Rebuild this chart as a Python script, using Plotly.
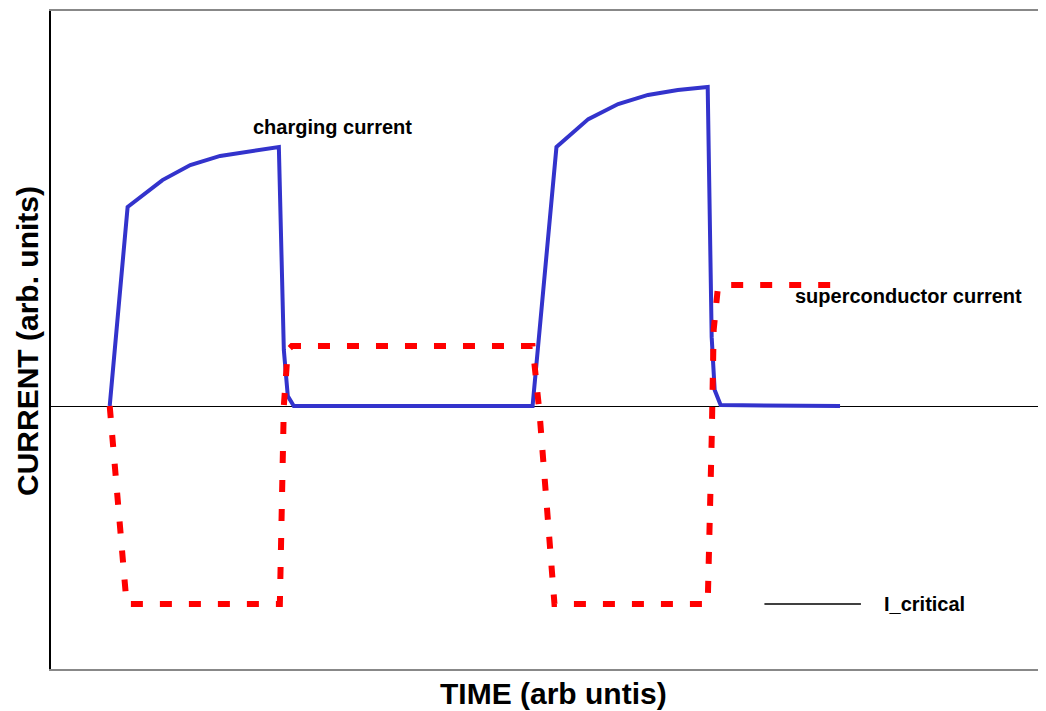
import plotly.graph_objects as go

# Time (arb units) and current (arb units; I_critical = -1)
charging_t = [5.9, 7.7, 11.2, 14.0, 17.0, 20.0, 22.9, 23.4, 23.8, 24.4,
              48.4, 50.8, 54.0, 57.0, 60.0, 63.0, 66.0, 66.4, 66.7, 67.3, 79.3]
charging_i = [0.0, 1.005, 1.141, 1.217, 1.263, 1.288, 1.308, 0.283, 0.05, 0.0,
              0.0, 1.308, 1.449, 1.525, 1.571, 1.596, 1.611, 0.348, 0.081, 0.005, 0.0]

super_t = [5.9, 7.6, 23.0, 23.4, 23.8, 24.2, 48.4, 48.7, 49.1, 50.6,
           66.0, 66.4, 66.6, 67.0, 67.4, 79.5]
super_i = [0.0, -1.0, -1.0, 0.0, 0.283, 0.303, 0.303, 0.141, -0.035, -1.0,
           -1.0, -0.17, 0.384, 0.586, 0.611, 0.611]

icrit_t = [71.7, 81.4]
icrit_i = [-1.0, -1.0]

labels = ["charging current", "superconductor current", "I_critical"]
label_t = [20.1, 74.6, 83.5]
label_i = [1.409, 0.556, -1.0]
label_size = [20, 20, 20]

x_title = "TIME (arb untis)"
y_title = "CURRENT (arb. units)"

FONT = "Liberation Sans, Arial, sans-serif"

fig = go.Figure()
fig.add_trace(go.Scatter(x=charging_t, y=charging_i, mode="lines",
                         line=dict(color="#3333cc", width=4), hoverinfo="skip"))
fig.add_trace(go.Scatter(x=super_t, y=super_i, mode="lines",
                         line=dict(color="#ff0000", width=6, dash="12px,17px"),
                         hoverinfo="skip"))
fig.add_trace(go.Scatter(x=icrit_t, y=icrit_i, mode="lines",
                         line=dict(color="black", width=1.4), hoverinfo="skip"))

for txt, tx, ty, sz in zip(labels, label_t, label_i, label_size):
    fig.add_annotation(x=tx, y=ty, text=f"<b>{txt}</b>", showarrow=False,
                       xanchor="left", yanchor="middle",
                       font=dict(family=FONT, size=sz, color="black"))

fig.add_annotation(xref="paper", yref="paper", x=0.505, y=-0.0365,
                   text=f"<b>{x_title}</b>", showarrow=False,
                   xanchor="center", yanchor="middle",
                   font=dict(family=FONT, size=30, color="black"))
fig.add_annotation(xref="paper", yref="paper", x=-0.0231, y=0.4985,
                   text=f"<b>{y_title}</b>", showarrow=False, textangle=-90,
                   xanchor="center", yanchor="middle",
                   font=dict(family=FONT, size=30, color="black"))

# page body has an 8px margin, so the figure is shrunk and shifted accordingly
fig.update_layout(
    width=1038, height=703,
    margin=dict(l=43, r=0, t=3, b=42),
    paper_bgcolor="white", plot_bgcolor="white",
    showlegend=False,
    xaxis=dict(range=[0, 100], showgrid=False, zeroline=False,
               showticklabels=False, ticks="", showline=True,
               linecolor="#888888", linewidth=1.5, mirror=True, fixedrange=True),
    yaxis=dict(range=[-1.328, 1.995], showgrid=False, zeroline=True,
               zerolinecolor="black", zerolinewidth=1,
               showticklabels=False, ticks="", showline=True,
               linecolor="black", linewidth=1.5, fixedrange=True),
)

fig.write_html("out.html")
